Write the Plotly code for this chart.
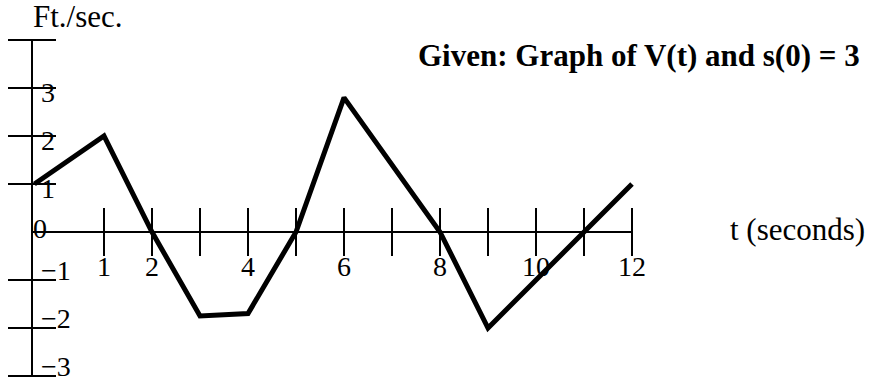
import plotly.graph_objects as go

# velocity graph, positions as drawn (t axis starts half a unit left of 1's spacing)
t_points = [-0.45, 1, 2, 3, 4, 5, 6, 8, 9, 12]
v_points = [1, 2, 0, -1.75, -1.7, 0, 2.8, 0, -2, 1]

x_ticks = [1, 2, 3, 4, 5, 6, 7, 8, 9, 10, 11, 12]
x_tick_labels = ["1", "2", "", "4", "", "6", "", "8", "", "10", "", "12"]
y_ticks = [4, 3, 2, 1, -1, -2, -3]
y_tick_labels = ["", "3", "2", "1", "−1", "−2", "−3"]

title_text = "<b>Given: Graph of V(t) and s(0) = 3</b>"
y_unit = "Ft./sec."
x_unit = "t (seconds)"

Y_AXIS_X = -0.5
FONT = "Liberation Serif, Times New Roman, serif"

fig = go.Figure()
fig.add_trace(
    go.Scatter(
        x=t_points,
        y=v_points,
        mode="lines",
        line=dict(color="black", width=5),
        hoverinfo="skip",
    )
)

shapes = []
line_style = dict(color="black", width=2)
# axes
shapes.append(dict(type="line", x0=Y_AXIS_X, x1=Y_AXIS_X, y0=-3.02, y1=3.98, line=line_style))
shapes.append(dict(type="line", x0=Y_AXIS_X, x1=max(x_ticks), y0=0, y1=0, line=line_style))
for t in x_ticks:
    shapes.append(dict(type="line", x0=t, x1=t, y0=-0.5, y1=0.5, line=line_style))
for v in y_ticks:
    shapes.append(dict(type="line", x0=Y_AXIS_X - 0.5, x1=Y_AXIS_X + 0.5, y0=v, y1=v, line=line_style))

annotations = []
for t, lab in zip(x_ticks, x_tick_labels):
    if lab:
        annotations.append(dict(x=t, y=-0.72, text=lab, showarrow=False,
                                xanchor="center", yanchor="middle",
                                font=dict(size=28)))
for v, lab in zip(y_ticks, y_tick_labels):
    if lab:
        off = -0.1 if v > 0 else 0.2
        annotations.append(dict(x=-0.36, y=v + off, text=lab, showarrow=False,
                                xanchor="left", yanchor="middle",
                                font=dict(size=28)))
annotations.append(dict(x=-0.52, y=0.08, text="0", showarrow=False,
                        xanchor="left", yanchor="middle", font=dict(size=28)))
annotations.append(dict(x=-0.52, y=4.5, text=y_unit, showarrow=False,
                        xanchor="left", yanchor="middle", font=dict(size=31)))
annotations.append(dict(x=14.0, y=0.06, text=x_unit, showarrow=False,
                        xanchor="left", yanchor="middle", font=dict(size=31)))
annotations.append(dict(x=7.5, y=3.68, text=title_text, showarrow=False,
                        xanchor="left", yanchor="middle", font=dict(size=31)))

fig.update_layout(
    width=872,
    height=384,
    margin=dict(l=0, r=0, t=0, b=0),
    paper_bgcolor="white",
    plot_bgcolor="white",
    showlegend=False,
    font=dict(family=FONT, color="black"),
    xaxis=dict(visible=False, range=[-56 / 48, 816 / 48], fixedrange=True),
    yaxis=dict(visible=False, range=[-152 / 48, 232 / 48], fixedrange=True),
    shapes=shapes,
    annotations=annotations,
)

fig.write_html(
    "out.html",
    config={"displayModeBar": False},
    post_script="document.body.style.margin='0';",
)
